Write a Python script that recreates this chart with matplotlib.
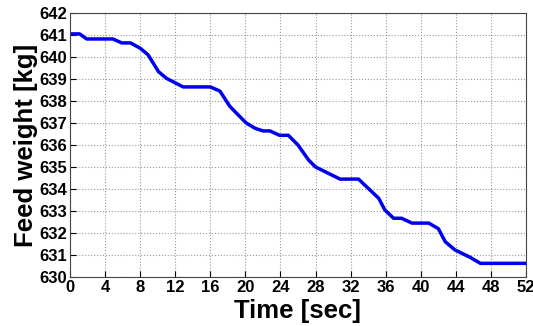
import matplotlib
matplotlib.use('Agg')
import matplotlib.pyplot as plt

# Feed weight readings (time in sec, weight in kg)
time_sec = [0, 1.1, 1.9, 4.9, 5.9, 6.9, 8.0, 8.9, 10.1, 11.0, 12.9, 16.0,
            17.1, 18.2, 19.0, 20.1, 21.1, 22.0, 22.8, 23.9, 24.9, 26.0,
            27.2, 28.0, 30.8, 32.9, 35.2, 35.9, 36.9, 37.8, 39.0, 40.9,
            42.0, 42.8, 43.9, 45.6, 46.8, 52.0]
weight_kg = [641.05, 641.05, 640.82, 640.82, 640.64, 640.64, 640.4, 640.1,
             639.33, 639.03, 638.64, 638.64, 638.45, 637.77, 637.44, 637.0,
             636.76, 636.64, 636.64, 636.44, 636.44, 636.0, 635.32, 635.0,
             634.45, 634.45, 633.58, 633.05, 632.67, 632.67, 632.45, 632.45,
             632.2, 631.6, 631.23, 630.9, 630.62, 630.62]

x_ticks = list(range(0, 53, 4))
y_ticks = list(range(630, 643))

plt.rcParams['font.family'] = ['Liberation Sans', 'DejaVu Sans']

fig = plt.figure(figsize=(5.33, 3.26), dpi=100)
ax = fig.add_axes([70 / 533, 1 - 277 / 326, 456 / 533, 264 / 326])

ax.plot(time_sec, weight_kg, color='#0000ee', linewidth=2.5)

ax.set_xlim(0, 52)
ax.set_ylim(630, 642)
ax.set_xticks(x_ticks)
ax.set_yticks(y_ticks)
ax.tick_params(direction='in', length=4, width=0.8, labelsize=12, pad=2)
for lbl in ax.get_xticklabels() + ax.get_yticklabels():
    lbl.set_fontweight('bold')

ax.grid(True, linestyle=':', color='#999999', linewidth=0.8)
for s in ax.spines.values():
    s.set_color('#444444')

ax.set_xlabel('Time [sec]', fontsize=18.5, fontweight='bold', labelpad=3)
ax.set_ylabel('Feed weight [kg]', fontsize=18.5, fontweight='bold', labelpad=1)

fig.savefig('out.png', dpi=100)
